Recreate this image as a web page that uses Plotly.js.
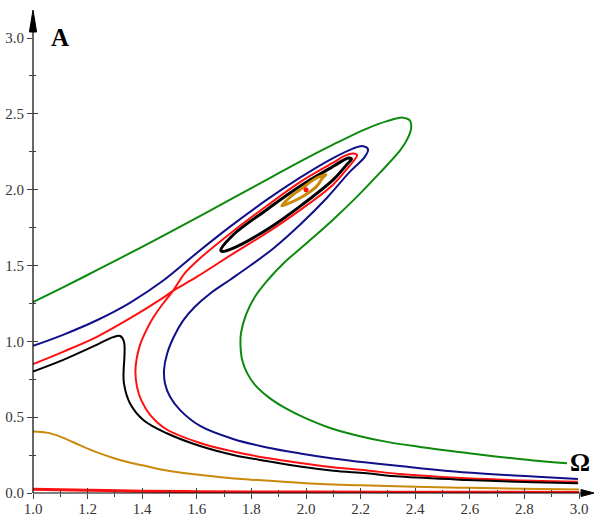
<!DOCTYPE html>
<html>
<head>
<meta charset="utf-8">
<script src="https://cdn.plot.ly/plotly-3.0.1.min.js"></script>
<style>html,body{margin:0;padding:0;background:#fff;}#chart{width:594px;height:517px;}</style>
</head>
<body>
<div id="chart"></div>
<script>
// ---- data ----
const xTicks = [1.0,1.2,1.4,1.6,1.8,2.0,2.2,2.4,2.6,2.8,3.0];
const xTickText = ["1.0","1.2","1.4","1.6","1.8","2.0","2.2","2.4","2.6","2.8","3.0"];
const yTicks = [0,0.5,1.0,1.5,2.0,2.5,3.0];
const yTickText = ["0.0","0.5","1.0","1.5","2.0","2.5","3.0"];

const greenX = [1.000,1.110,1.234,1.355,1.476,1.601,1.722,1.857,1.978,2.099,2.223,2.297,2.355,2.381,2.385,2.370,2.344,2.271,2.187,2.099,2.004,1.916,1.861,1.813,1.780,1.762,1.760,1.766,1.784,1.813,1.861,1.923,1.996,2.088,2.179,2.297,2.418,2.590,2.711,2.832,2.956];
const greenY = [1.259,1.356,1.469,1.581,1.696,1.815,1.934,2.066,2.185,2.297,2.403,2.452,2.475,2.455,2.403,2.330,2.257,2.112,1.954,1.802,1.650,1.512,1.406,1.294,1.175,1.056,0.977,0.878,0.792,0.713,0.634,0.561,0.495,0.429,0.383,0.337,0.304,0.264,0.238,0.215,0.196];

const blueX = [1.000,1.110,1.234,1.355,1.476,1.601,1.722,1.857,1.978,2.099,2.172,2.209,2.227,2.216,2.161,2.077,1.978,1.879,1.795,1.722,1.648,1.593,1.549,1.516,1.491,1.480,1.484,1.502,1.538,1.612,1.733,1.857,1.978,2.099,2.223,2.344,2.590,2.832,2.996];
const blueY = [0.970,1.043,1.139,1.254,1.399,1.584,1.756,1.934,2.079,2.208,2.271,2.287,2.267,2.218,2.119,1.947,1.769,1.611,1.498,1.406,1.314,1.228,1.135,1.030,0.917,0.812,0.719,0.634,0.548,0.442,0.356,0.300,0.261,0.228,0.201,0.178,0.135,0.109,0.092];

const redX = [1.000,1.110,1.234,1.355,1.476,1.513,1.601,1.733,1.857,1.978,2.099,2.154,2.179,2.187,2.172,2.143,2.099,1.978,1.857,1.733,1.612,1.557,1.513,1.473,1.440,1.414,1.392,1.379,1.375,1.381,1.396,1.429,1.487,1.612,1.733,1.857,1.978,2.099,2.223,2.344,2.590,2.832,2.996];
const redY = [0.850,0.931,1.030,1.152,1.287,1.333,1.426,1.578,1.716,1.865,2.033,2.145,2.201,2.228,2.238,2.224,2.178,2.050,1.894,1.726,1.548,1.452,1.333,1.241,1.155,1.069,0.977,0.878,0.799,0.700,0.614,0.515,0.422,0.330,0.274,0.231,0.198,0.170,0.149,0.125,0.097,0.081,0.075];

const blackX = [1.000,1.111,1.233,1.294,1.319,1.333,1.335,1.332,1.333,1.355,1.404,1.490,1.612,1.734,1.856,1.978,2.100,2.222,2.344,2.589,2.833,2.997];
const blackY = [0.801,0.878,0.977,1.028,1.035,0.999,0.900,0.812,0.724,0.592,0.482,0.394,0.310,0.251,0.211,0.174,0.147,0.130,0.108,0.086,0.071,0.064];

const blackLoopX = [1.688,1.734,1.856,1.978,2.100,2.155,2.167,2.149,2.100,1.978,1.856,1.734,1.691,1.688];
const blackLoopY = [1.601,1.703,1.868,2.022,2.154,2.209,2.203,2.165,2.066,1.890,1.736,1.615,1.593,1.601];

const goldX = [1.00,1.05,1.10,1.15,1.20,1.25,1.30,1.35,1.40,1.50,1.60,1.70,1.80,2.00,2.20,2.40,2.60,2.80,3.00];
const goldY = [0.405,0.398,0.372,0.333,0.293,0.258,0.228,0.203,0.183,0.145,0.122,0.102,0.088,0.065,0.051,0.041,0.034,0.028,0.023];

const goldLoopX = [1.911,1.940,1.978,2.039,2.073,2.060,2.039,1.978,1.930,1.911];
const goldLoopY = [1.894,1.948,2.000,2.077,2.099,2.075,2.022,1.945,1.905,1.894];

const redBaseX = [1.0,1.2,1.4,1.6,1.8,2.0,2.5,3.0];
const redBaseY = [0.024,0.018,0.012,0.009,0.007,0.006,0.005,0.004];

const dotX = [2.0];
const dotY = [2.0];

// ---- colours ----
const GREEN = "#0d8a0d", NAVY = "#10108a", RED = "#ff1010", BLACK = "#000000", GOLD = "#c98a0b";

function curve(x, y, color, width, smooth) {
  return {x: x, y: y, type: "scatter", mode: "lines", hoverinfo: "skip",
    line: {color: color, width: width, shape: smooth ? "spline" : "linear", smoothing: 1}};
}

const traces = [
  curve(goldX, goldY, GOLD, 2, true),
  curve(redBaseX, redBaseY, RED, 3, true),
  curve(greenX, greenY, GREEN, 2, true),
  curve(blueX, blueY, NAVY, 2, true),
  curve(redX, redY, RED, 2, true),
  curve(blackX, blackY, BLACK, 2, true),
  curve(blackLoopX, blackLoopY, BLACK, 3, true),
  curve(goldLoopX, goldLoopY, GOLD, 3, true),
  {x: dotX, y: dotY, type: "scatter", mode: "markers", hoverinfo: "skip",
    marker: {color: RED, size: 5, line: {width: 0}}},
  {x: [1], y: [0], xaxis: "x2", yaxis: "y2", type: "scatter", mode: "markers",
    marker: {opacity: 0}, hoverinfo: "skip"}
];

const tickFont = {family: "Liberation Serif, Times New Roman, serif", size: 15, color: "#333"};

const layout = {
  width: 594, height: 517,
  margin: {l: 33, r: 15, t: 38, b: 24, pad: 0},
  paper_bgcolor: "#fff", plot_bgcolor: "#fff",
  showlegend: false,
  xaxis: {range: [1, 3], tickvals: xTicks, ticktext: xTickText, ticks: "outside", ticklen: 5,
    tickcolor: "#444", tickwidth: 1, tickfont: tickFont, ticklabelstandoff: -3,
    showgrid: false, zeroline: false, showline: false,
    minor: {ticks: "outside", ticklen: 3, dtick: 0.1, tick0: 1, tickcolor: "#444", showgrid: false}},
  yaxis: {range: [0, 3], tickvals: yTicks, ticktext: yTickText, ticks: "outside", ticklen: 5,
    tickcolor: "#444", tickwidth: 1, tickfont: tickFont, showgrid: false, zeroline: false, showline: false,
    minor: {ticks: "outside", ticklen: 3, dtick: 0.25, tick0: 0, tickcolor: "#444", showgrid: false}},
  xaxis2: {overlaying: "x", range: [1, 3], tickvals: xTicks, ticks: "inside", ticklen: 5, tickcolor: "#444",
    showticklabels: false, showgrid: false, zeroline: false, showline: false,
    minor: {ticks: "inside", ticklen: 3, dtick: 0.1, tick0: 1, tickcolor: "#444", showgrid: false}},
  yaxis2: {overlaying: "y", side: "left", range: [0, 3], tickvals: yTicks, ticks: "inside", ticklen: 5, tickcolor: "#444",
    showticklabels: false, showgrid: false, zeroline: false, showline: false,
    minor: {ticks: "inside", ticklen: 3, dtick: 0.25, tick0: 0, tickcolor: "#444", showgrid: false}},
  shapes: [
    {type: "line", xref: "paper", yref: "paper", x0: 0, y0: 0, x1: 0, y1: 1.015, line: {color: "#000", width: 1.2}, layer: "above"},
    {type: "line", xref: "paper", yref: "paper", x0: 0, y0: 0, x1: 1.005, y1: 0, line: {color: "#000", width: 1.2}, layer: "above"},
    {type: "path", xref: "paper", yref: "paper", path: "M -0.0066,1.0132 L 0.0066,1.0132 L 0,1.0615 Z",
      fillcolor: "#000", line: {color: "#000", width: 1}, layer: "above"},
    {type: "path", xref: "paper", yref: "paper", path: "M 1.0037,0.0077 L 1.0037,-0.0077 L 1.0275,0 Z",
      fillcolor: "#000", line: {color: "#000", width: 1}, layer: "above"}
  ],
  annotations: [
    {xref: "paper", yref: "paper", x: 0.049, y: 1.002, xanchor: "center", yanchor: "middle",
      text: "<b>A</b>", showarrow: false,
      font: {family: "Liberation Serif, Times New Roman, serif", size: 25, color: "#000"}},
    {xref: "paper", yref: "paper", x: 1.002, y: 0.068, xanchor: "center", yanchor: "middle",
      text: "<b>Ω</b>", showarrow: false,
      font: {family: "Liberation Serif, Times New Roman, serif", size: 25, color: "#000"}}
  ]
};

Plotly.newPlot("chart", traces, layout, {displayModeBar: false, staticPlot: true});
</script>
</body>
</html>
